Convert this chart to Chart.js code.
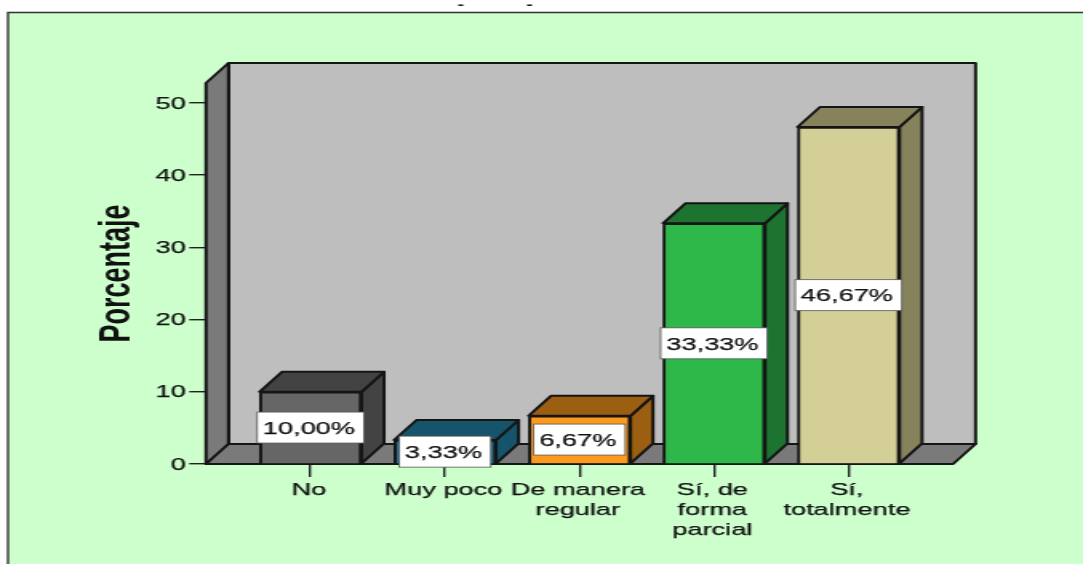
<!DOCTYPE html>
<html><head><meta charset="utf-8">
<style>html,body{margin:0;padding:0;background:#fff;overflow:hidden}
#w{width:1083px;height:564px;overflow:hidden}
canvas{display:block;transform-origin:0 0;transform:scaleX(1.5997)}</style>
<script src="https://cdn.jsdelivr.net/npm/chart.js@4"></script></head>
<body><div id="w"><canvas id="c" width="677" height="564"></canvas></div>
<script>
const categories=["No","Muy poco","De manera regular","Sí, de forma parcial","Sí, totalmente"];
const tickLabels=[["No"],["Muy poco"],["De manera","regular"],["Sí, de","forma","parcial"],["Sí,","totalmente"]];
const values=[10,3.33,6.67,33.33,46.67];
const frontColors=["#666666","#1f6f94","#fb9a1c","#2eb84a","#d3cf96"];
const sideColors=["#434343","#16546b","#9c5f12","#1c7430","#85825c"];
const yTicks=[0,10,20,30,40,50];
const S=1083/677, FONT='"Liberation Sans",Arial,sans-serif', DX=22.5/S, DY=20, PADL=57.5;
function poly(ctx,pts,fill){ctx.beginPath();pts.forEach((p,i)=>i?ctx.lineTo(p[0],p[1]):ctx.moveTo(p[0],p[1]));ctx.closePath();ctx.fillStyle=fill;ctx.fill();ctx.strokeStyle="#151515";ctx.lineWidth=2;ctx.lineJoin="round";ctx.stroke();}
const scene={id:"scene",
 beforeDraw(ch){const c=ch.ctx;c.save();c.fillStyle="#fff";c.fillRect(0,0,ch.width,ch.height);c.fillStyle="#ccffcc";c.fillRect(5,12,ch.width,ch.height);
  c.strokeStyle="#333";c.lineWidth=1.4;c.beginPath();c.moveTo(5,564);c.lineTo(5,12.5);c.lineTo(ch.width,12.5);c.stroke();
  c.restore();},
 beforeDatasetsDraw(ch){const c=ch.ctx,a=ch.chartArea;c.save();
  poly(c,[[a.left+DX,a.top-DY],[a.right+DX,a.top-DY],[a.right+DX,a.bottom-DY],[a.left+DX,a.bottom-DY]],"#bebebe");
  poly(c,[[a.left,a.top],[a.left+DX,a.top-DY],[a.left+DX,a.bottom-DY],[a.left,a.bottom]],"#7a7a7a");
  poly(c,[[a.left,a.bottom],[a.left+DX,a.bottom-DY],[a.right+DX,a.bottom-DY],[a.right,a.bottom]],"#7a7a7a");
  ch.getDatasetMeta(0).data.forEach((b,i)=>{const l=b.x-b.width/2,r=b.x+b.width/2,t=b.y,u=b.base;
   poly(c,[[r,t],[r+DX,t-DY],[r+DX,u-DY],[r,u]],sideColors[i]);
   poly(c,[[l,t],[l+DX,t-DY],[r+DX,t-DY],[r,t]],sideColors[i]);});
  c.restore();},
 afterDatasetsDraw(ch){const c=ch.ctx;c.save();c.font="17px "+FONT;c.textAlign="center";c.textBaseline="middle";
  ch.getDatasetMeta(0).data.forEach((b,i)=>{const s=values[i].toFixed(2).replace(".",",")+"%",w=c.measureText(s).width+9,h=31,y=(b.y+b.base)/2;
   c.fillStyle="#fff";c.strokeStyle="#555";c.lineWidth=.8;c.fillRect(b.x-w/2,y-h/2,w,h);c.strokeRect(b.x-w/2,y-h/2,w,h);
   c.fillStyle="#111";c.strokeStyle="#111";c.lineWidth=.25;c.fillText(s,b.x-1,y+1.5);c.strokeText(s,b.x-1,y+1.5);});
  c.fillStyle="#111";c.font="bold 12px "+FONT;c.fillText("-",288,6);c.fillText("-",331,6);
  c.restore();}
};
new Chart(document.getElementById("c"),{type:"bar",plugins:[scene],
 data:{labels:categories,datasets:[{data:values.map((v,i)=>({x:i,y:v})),backgroundColor:frontColors,borderColor:"#151515",borderWidth:2,barThickness:102/S}]},
 options:{responsive:false,animation:false,devicePixelRatio:1,
  layout:{padding:{left:PADL,right:(1083-953)/S,top:83,bottom:0}},
  plugins:{legend:{display:false},tooltip:{enabled:false},title:{display:false}},
  scales:{
   x:{type:"linear",offset:false,min:-0.777,max:4.777,afterFit(s){s.height=100;},afterBuildTicks(s){s.ticks=categories.map((_,i)=>({value:i}));},
    ticks:{includeBounds:false,stepSize:1,autoSkip:false,maxRotation:0,minRotation:0,padding:3,labelOffset:-1,color:"#111",textStrokeColor:"#111",textStrokeWidth:.25,font:{family:FONT,size:17,lineHeight:1.18},callback:(v)=>tickLabels[v]||""},
    grid:{offset:false,drawOnChartArea:false,tickLength:13,color:"#222",lineWidth:1.4},border:{display:false}},
   y:{min:0,max:52.77,afterFit(s){s.width=206/S-PADL;},afterBuildTicks(s){s.ticks=yTicks.map(v=>({value:v}));},
    ticks:{includeBounds:false,stepSize:10,padding:2,labelOffset:1,color:"#111",textStrokeColor:"#111",textStrokeWidth:.25,font:{family:FONT,size:17}},
    grid:{drawOnChartArea:false,tickLength:10.5,color:"#222",lineWidth:1.4},border:{display:false},
    title:{display:true,text:"Porcentaje",color:"#111",font:{family:FONT,size:27,weight:"bold"},padding:0}}
  }}});
</script></body></html>
